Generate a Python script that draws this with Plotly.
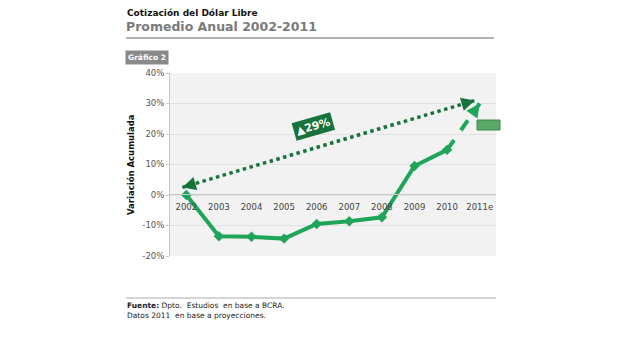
import plotly.graph_objects as go

# ---- data ----
years = ["2002", "2003", "2004", "2005", "2006", "2007", "2008", "2009", "2010", "2011e"]
actual = [0, -13.5, -13.7, -14.3, -9.5, -8.6, -7.3, 9.5, 14.8]
projected_2011 = 30.0
trend_start = 2.5
trend_end = 31.0
trend_label = "▲29%"
y_ticks = [-20, -10, 0, 10, 20, 30, 40]
y_tick_text = ["-20%", "-10%", "0%", "10%", "20%", "30%", "40%"]

# ---- geometry helpers (pixel -> paper) ----
W, H = 640, 338
L, R, T, B = 170, 496, 73, 256
def xp(px):
    return (px - L) / (R - L)
def yp(py):
    return (B - py) / (B - T)

GREEN = "#1fa55a"
DARK = "#16733b"
idx = list(range(len(years)))

fig = go.Figure()

# dotted trend arrow
tx0, tx1 = -0.12, 8.85
fig.add_trace(go.Scatter(x=[tx0, tx1], y=[trend_start, trend_end], mode="lines",
                         line=dict(color=DARK, width=3.5, dash="dot"), hoverinfo="skip"))

# projected dashed segment
fig.add_trace(go.Scatter(x=[idx[8], idx[9]], y=[actual[8], projected_2011], mode="lines",
                         line=dict(color=GREEN, width=4, dash="dash"), hoverinfo="skip"))

# actual series
fig.add_trace(go.Scatter(x=idx[:len(actual)], y=actual, mode="lines+markers",
                         line=dict(color=GREEN, width=4),
                         marker=dict(symbol="diamond", size=8, color=GREEN)))

ann = []
def head(x0, y0, x1, y1, color, frac=0.94):
    ax = x0 + frac * (x1 - x0)
    ay = y0 + frac * (y1 - y0)
    return dict(x=x1, y=y1, ax=ax, ay=ay, xref="x", yref="y", axref="x", ayref="y",
                showarrow=True, arrowhead=2, arrowsize=0.9, arrowwidth=3, arrowcolor=color, text="")
ann.append(head(tx0, trend_start, tx1, trend_end, DARK, 0.97))
ann.append(head(tx1, trend_end, tx0, trend_start, DARK, 0.97))
ann.append(head(idx[8], actual[8], idx[9], projected_2011, GREEN, 0.8))

# trend label
ann.append(dict(x=3.9, y=22.3, xref="x", yref="y", text="<b>" + trend_label + "</b>", showarrow=False,
                textangle=-16, bgcolor=DARK, font=dict(color="white", size=11, family="DejaVu Sans"),
                borderpad=2))

# titles
ann.append(dict(x=xp(125), y=yp(6), xref="paper", yref="paper", xanchor="left", yanchor="top",
                text="<b>Cotización del Dólar Libre</b>", showarrow=False,
                font=dict(size=9, color="#111", family="DejaVu Sans")))
ann.append(dict(x=xp(124), y=yp(17), xref="paper", yref="paper", xanchor="left", yanchor="top",
                text="<b>Promedio Anual 2002-2011</b>", showarrow=False,
                font=dict(size=12.5, color="#7a7a7a", family="DejaVu Sans")))
ann.append(dict(x=xp(125), y=yp(50), xref="paper", yref="paper", xanchor="left", yanchor="top",
                text="<b>Gráfico 2</b>", showarrow=False, bgcolor="#8a8a8a", borderpad=2,
                font=dict(size=7.5, color="white", family="DejaVu Sans")))
ann.append(dict(x=xp(131), y=yp(165), xref="paper", yref="paper", xanchor="center", yanchor="middle",
                text="<b>Variación Acumulada</b>", showarrow=False, textangle=-90,
                font=dict(size=8.5, color="#111", family="DejaVu Sans")))
ann.append(dict(x=xp(125), y=yp(299), xref="paper", yref="paper", xanchor="left", yanchor="top",
                text="<b>Fuente:</b> Dpto.  Estudios  en base a BCRA.<br>Datos 2011  en base a proyecciones.",
                showarrow=False, align="left",
                font=dict(size=7.5, color="#222", family="DejaVu Sans")))

shapes = [
    dict(type="line", xref="paper", yref="paper", x0=xp(126), x1=xp(494), y0=yp(38), y1=yp(38),
         line=dict(color="#999", width=1.5)),
    dict(type="line", xref="paper", yref="paper", x0=xp(126), x1=xp(496), y0=yp(298), y1=yp(298),
         line=dict(color="#aaa", width=1)),
    dict(type="rect", xref="paper", yref="paper", x0=xp(477), x1=xp(500), y0=yp(120), y1=yp(130),
         fillcolor="#5aa866", line=dict(color="#3d8a4d", width=1)),
]

fig.update_layout(
    width=W, height=H, margin=dict(l=L, r=W - R, t=T, b=H - B),
    paper_bgcolor="white", plot_bgcolor="#f2f2f2", showlegend=False,
    annotations=ann, shapes=shapes,
    font=dict(family="DejaVu Sans", size=9, color="#555"),
    xaxis=dict(range=[-0.5, 9.5], tickvals=idx, ticktext=years, showgrid=False, zeroline=False,
               anchor="free", position=yp(194), showline=True, linecolor="#c8c8c8",
               tickfont=dict(size=8.5, color="#444"), ticks="", ticklabelstandoff=5, fixedrange=True),
    yaxis=dict(range=[-20, 40], tickvals=y_ticks, ticktext=y_tick_text, showgrid=True, gridcolor="#e2e2e2",
               zeroline=False, showline=True, linecolor="#c8c8c8", ticks="outside", ticklen=3,
               tickcolor="#c8c8c8", tickfont=dict(size=8.5, color="#555")),
)

fig.write_html("out.html")
